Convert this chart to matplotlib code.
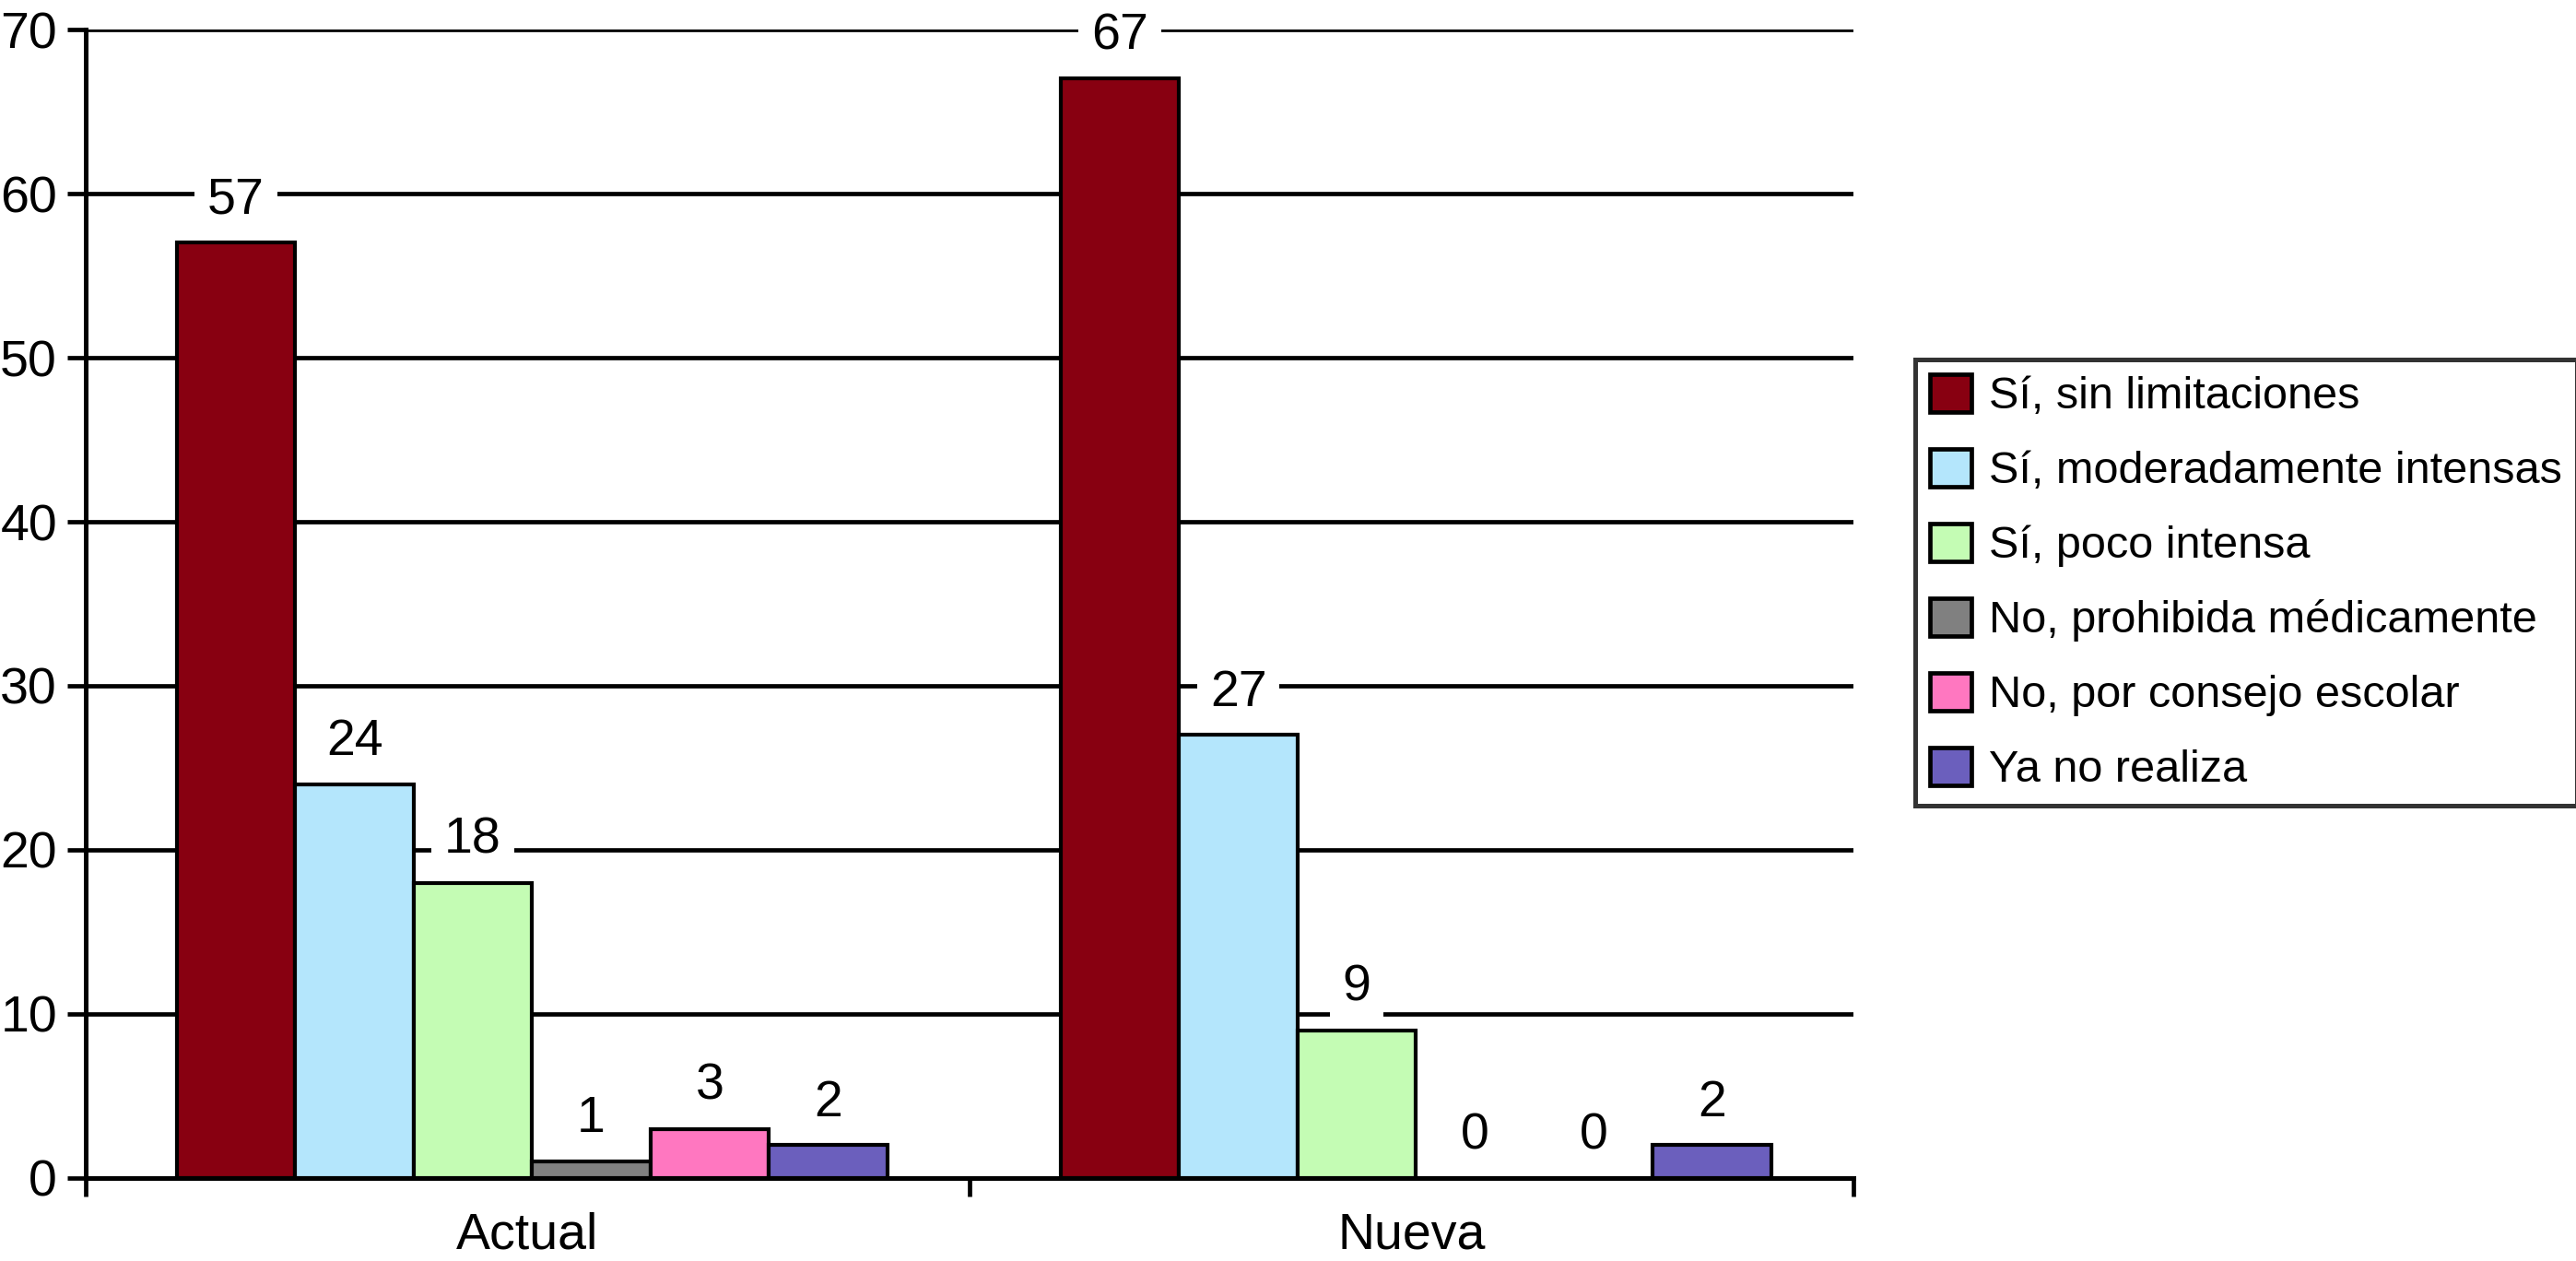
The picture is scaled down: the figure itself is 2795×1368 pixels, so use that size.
import numpy as np
import matplotlib.pyplot as plt
from matplotlib.patches import Patch

# Datos
groups = ['Actual', 'Nueva']
series = ['Sí, sin limitaciones', 'Sí, moderadamente intensas', 'Sí, poco intensa',
          'No, prohibida médicamente', 'No, por consejo escolar', 'Ya no realiza']
actual = [57, 24, 18, 1, 3, 2]
nueva = [67, 27, 9, 0, 0, 2]
colors = ['#880011', '#b4e6fc', '#c4fcb4', '#808080', '#ff77c0', '#6b5fbd']

plt.rcParams['font.family'] = ['Liberation Sans', 'DejaVu Sans']

fig = plt.figure(figsize=(13.975, 6.84), dpi=200)
ax = fig.add_axes([0.0333, 0.0658, 0.6862, 0.9108])

values = np.array([actual, nueva])  # filas: grupos
x = np.arange(len(groups))
width = 0.134
offsets = (np.arange(len(series)) - (len(series) - 1) / 2) * width + 0.005

for i, name in enumerate(series):
    bars = ax.bar(x + offsets[i], values[:, i], width, color=colors[i],
                  edgecolor='black', linewidth=1.5, label=name, zorder=3)
    for b, v in zip(bars, values[:, i]):
        ax.annotate(str(v), (b.get_x() + b.get_width() / 2, v), xytext=(0, 16.5),
                    textcoords='offset points', ha='center', va='center',
                    fontsize=20, zorder=4,
                    bbox=dict(facecolor='white', edgecolor='none', pad=5))

ax.set_xlim(-0.5, 1.5)
ax.set_ylim(0, 70)
ax.set_yticks(range(0, 71, 10))
ax.yaxis.grid(True, color='black', linewidth=1.7, zorder=0)
ax.set_axisbelow(True)

ax.set_xticks([-0.5, 0.5, 1.5])
ax.set_xticklabels([])
ax.set_xticks(x, minor=True)
ax.set_xticklabels(groups, minor=True, fontsize=20)
ax.tick_params(axis='x', which='major', direction='out', length=7.2, width=1.7)
ax.tick_params(axis='x', which='minor', length=0, pad=13)
ax.tick_params(axis='y', direction='out', length=7.2, width=1.7, labelsize=20, pad=4)

for s in ['top', 'right']:
    ax.spines[s].set_visible(False)
for s in ['left', 'bottom']:
    ax.spines[s].set_linewidth(1.8)
ax.spines['bottom'].set_zorder(5)

handles = [Patch(facecolor=c, edgecolor='black', linewidth=1.7, label=n)
           for c, n in zip(colors, series)]
leg = fig.legend(handles=handles, loc='upper left', bbox_to_anchor=(0.7435, 0.715),
                 fontsize=17.5, frameon=True, fancybox=False, edgecolor='black',
                 handlelength=0.93, handleheight=0.93, handletextpad=0.39,
                 labelspacing=0.69, borderpad=0.33, borderaxespad=0)
leg.get_frame().set_linewidth(1.8)

fig.savefig('out.png')
